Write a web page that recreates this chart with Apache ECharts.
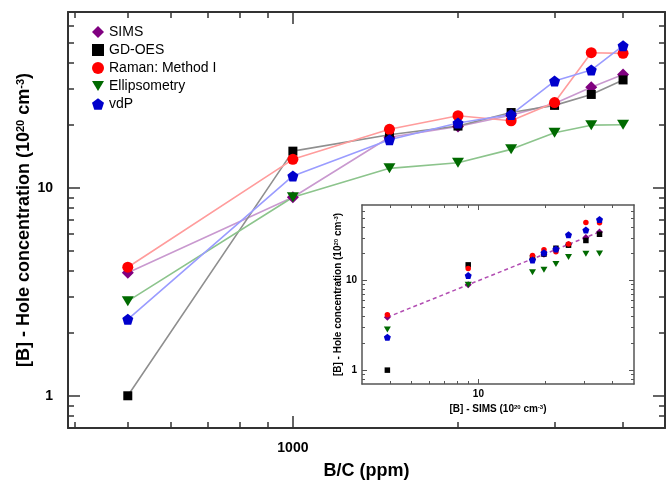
<!DOCTYPE html>
<html>
<head>
<meta charset="utf-8">
<script src="https://cdn.jsdelivr.net/npm/echarts@6/dist/echarts.min.js"></script>
<style>
  html, body { margin: 0; padding: 0; background: #fff; }
  #chart { width: 670px; height: 482px; }
</style>
</head>
<body>
<div id="chart"></div>
<script>
// B/C ratio in the growth gas (ppm)
const boronRatio = [500, 1000, 1500, 2000, 2500, 3000, 3500, 4000];

// [B] / hole concentration, in 1e20 cm^-3, per measurement method
const sims         = [3.9, 9.0, 17.5, 19.7, 22.3, 25.4, 30.4, 35.0];
const gdoes        = [1.0, 15.0, 18.0, 19.8, 23.0, 24.9, 28.1, 33.0];
const ramanMethod1 = [4.15, 13.7, 19.1, 22.2, 21.0, 25.7, 44.6, 44.3];
const ellipsometry = [2.85, 9.0, 12.4, 13.2, 15.3, 18.4, 20.0, 20.1];
const vdp          = [2.33, 11.4, 17.0, 20.5, 22.5, 32.6, 36.8, 48.2];

// Tick positions (log axes)
const mainXMajor = [1000];
const mainXMinor = [400, 500, 600, 700, 800, 900, 2000, 3000, 4000];
const yMajor = [1, 10];
const yMinor = [0.8, 0.9, 2, 3, 4, 5, 6, 7, 8, 9, 20, 30, 40, 50, 60];
const insetXMajor = [10];
const insetXMinor = [4, 5, 6, 7, 8, 9, 20, 30, 40];

const FONT = '"Liberation Sans", Arial, Helvetica, sans-serif';
const PENTAGON = 'path://M0,-1L0.951,-0.309L0.588,0.809L-0.588,0.809L-0.951,-0.309Z';
const TRI_DOWN = 'path://M0,0L12,0L6,10Z';

const methods = [
  { name: 'SIMS', data: sims, color: '#800080', line: '#c999cf', symbol: 'diamond', size: [12, 12], inset: [7, 7] },
  { name: 'GD-OES', data: gdoes, color: '#000000', line: '#8f8f8f', symbol: 'rect', size: [9, 9], inset: [5.5, 5.5] },
  { name: 'Raman: Method I', data: ramanMethod1, color: '#ff0000', line: '#ff9c9c', symbol: 'circle', size: [11, 11], inset: [5.5, 5.5] },
  { name: 'Ellipsometry', data: ellipsometry, color: '#006a00', line: '#8cc48c', symbol: TRI_DOWN, size: [12, 10], inset: [7, 6] },
  { name: 'vdP', data: vdp, color: '#0000cc', line: '#9a9cff', symbol: PENTAGON, size: [11, 11], inset: [7, 7] }
];

const fmt = v => String(Math.round(v * 1000) / 1000);

// Four axes per direction: near side major/minor, far side major/minor
function axisGroup(dir, grid, min, max, major, minor, o) {
  const near = dir === 'x' ? 'bottom' : 'left';
  const far = dir === 'x' ? 'top' : 'right';
  const mk = (pos, vals, len, withLine, withLabel) => ({
    type: 'log', logBase: 10, gridIndex: grid, position: pos, min: min, max: max,
    splitLine: { show: false },
    axisLine: { show: withLine, onZero: false, lineStyle: { color: o.lineColor, width: o.lineWidth } },
    axisTick: { show: true, inside: true, length: len, customValues: vals,
                lineStyle: { color: o.lineColor, width: o.tickWidth } },
    axisLabel: withLabel ? {
      show: true, customValues: major, formatter: fmt, margin: o.labelMargin,
      fontFamily: FONT, fontWeight: 'bold', fontSize: o.labelSize, color: '#000'
    } : { show: false },
    name: withLabel ? o.name : '',
    nameLocation: 'middle', nameGap: o.nameGap, nameRotate: dir === 'y' ? 90 : 0,
    nameMoveOverlap: false,
    nameTextStyle: {
      fontFamily: FONT, fontWeight: 'bold', fontSize: o.nameSize, color: '#000',
      rich: {
        b: { fontFamily: FONT, fontWeight: 'bold', fontSize: o.nameSize, color: '#000' },
        sup: { fontFamily: FONT, fontWeight: 'bold', fontSize: Math.round(o.nameSize * 0.62), color: '#000',
               verticalAlign: 'top', padding: [0, 0, Math.round(o.nameSize * 0.45), 0] }
      }
    }
  });
  return [
    mk(near, major, o.majorLen, true, true),
    mk(near, minor, o.minorLen, false, false),
    mk(far, major, o.majorLen, true, false),
    mk(far, minor, o.minorLen, false, false)
  ];
}

const mainStyle = { lineColor: '#333', lineWidth: 2, tickWidth: 1.5, majorLen: 12, minorLen: 6, labelSize: 14 };
const insetStyle = { lineColor: '#555', lineWidth: 1.5, tickWidth: 1, majorLen: 5, minorLen: 3, labelSize: 10 };

const xAxes = [
  ...axisGroup('x', 0, 389, 4770, mainXMajor, mainXMinor,
    Object.assign({}, mainStyle, { labelMargin: 13, name: '{b|B/C (ppm)}', nameGap: 34, nameSize: 18 })),
  ...axisGroup('x', 1, 3, 50, insetXMajor, insetXMinor,
    Object.assign({}, insetStyle, { labelMargin: 5, name: '{b|[B] - SIMS (10}{sup|20}{b| cm}{sup|-3}{b|)}', nameGap: 20, nameSize: 10 }))
];
const yAxes = [
  ...axisGroup('y', 0, 0.7, 70, yMajor, yMinor,
    Object.assign({}, mainStyle, { labelMargin: 15, name: '{b|[B] - Hole concentration (10}{sup|20}{b| cm}{sup|-3}{b|)}', nameGap: 34, nameSize: 18 })),
  ...axisGroup('y', 1, 0.7, 70, yMajor, yMinor,
    Object.assign({}, insetStyle, { labelMargin: 5, name: '{b|[B] - Hole concentration (10}{sup|20}{b| cm}{sup|-3}{b|)}', nameGap: 18, nameSize: 10 }))
];

const series = [];
// connecting lines of the main plot, under all markers
methods.forEach(m => {
  series.push({
    type: 'line', xAxisIndex: 0, yAxisIndex: 0, z: 2, silent: true,
    showSymbol: false, symbol: 'none',
    lineStyle: { color: m.line, width: 1.6 },
    data: boronRatio.map((x, i) => [x, m.data[i]])
  });
});
// main plot markers
methods.forEach(m => {
  series.push({
    name: m.name, type: 'scatter', xAxisIndex: 0, yAxisIndex: 0, z: 3,
    symbol: m.symbol, symbolSize: m.size,
    itemStyle: { color: m.color, opacity: 1 },
    data: boronRatio.map((x, i) => [x, m.data[i]])
  });
});
// inset: y = x reference through the SIMS values
series.push({
  type: 'line', xAxisIndex: 4, yAxisIndex: 4, z: 2, silent: true,
  showSymbol: false, symbol: 'none',
  lineStyle: { color: '#b24db2', width: 1.5, type: [4, 3] },
  data: [[Math.min(...sims), Math.min(...sims)], [Math.max(...sims), Math.max(...sims)]]
});
// inset: every method against SIMS
methods.forEach(m => {
  series.push({
    type: 'scatter', xAxisIndex: 4, yAxisIndex: 4, z: 3,
    symbol: m.symbol, symbolSize: m.inset,
    itemStyle: { color: m.color, opacity: 1 },
    data: sims.map((s, i) => [s, m.data[i]])
  });
});

const chart = echarts.init(document.getElementById('chart'), null, { renderer: 'canvas' });
chart.setOption({
  animation: false,
  backgroundColor: '#fff',
  grid: [
    { left: 68, top: 12, width: 597, height: 416, containLabel: false, outerBoundsMode: 'none' },
    { left: 362, top: 205, width: 272, height: 179, containLabel: false, outerBoundsMode: 'none' }
  ],
  legend: {
    orient: 'vertical', left: 92, top: 25, padding: 0,
    itemWidth: 12, itemHeight: 12, itemGap: 4,
    data: methods.map(m => m.name),
    textStyle: { fontFamily: FONT, fontSize: 14, color: '#000' }
  },
  xAxis: xAxes,
  yAxis: yAxes,
  series: series
});
</script>
</body>
</html>
